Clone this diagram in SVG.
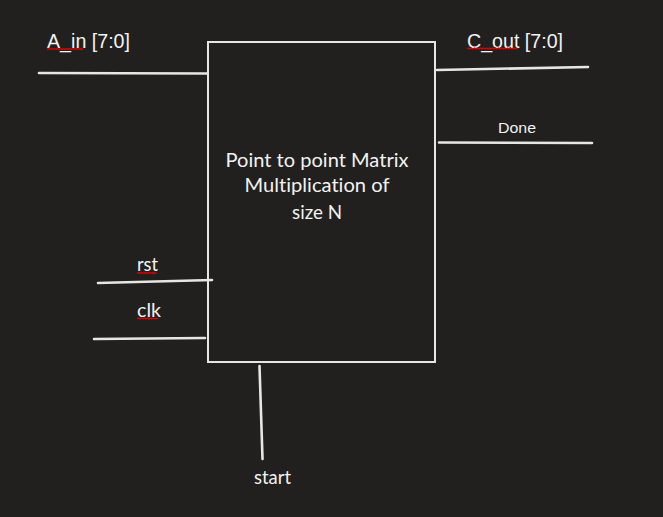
<svg xmlns="http://www.w3.org/2000/svg" width="663" height="517" viewBox="0 0 663 517">
<style>
.bg{fill:#21201f}
.box{fill:none;stroke:#e6e6e6;stroke-width:2}
.wire{stroke:#e6e6e6;stroke-width:2.6;stroke-linecap:round;fill:none}
.lbl{fill:#f2f2f2;font-family:"Liberation Sans",Arial,sans-serif}
.cal{fill:#f2f2f2;font-family:Lato,"Liberation Sans",sans-serif;font-variant-ligatures:none}
.sq{fill:none;stroke:#e00000;stroke-width:1.2}
</style>
<rect class="bg" x="0" y="0" width="663" height="517"/>
<g id="block">
<rect class="box" x="208" y="42" width="227" height="320"/>
<text class="cal" font-size="19.5" text-anchor="middle" x="317" y="167" textLength="183" lengthAdjust="spacingAndGlyphs">Point to point Matrix</text>
<text class="cal" font-size="19.5" text-anchor="middle" x="317" y="192" textLength="145" lengthAdjust="spacingAndGlyphs">Multiplication of</text>
<text class="cal" font-size="19.5" text-anchor="middle" x="317" y="219" textLength="50" lengthAdjust="spacingAndGlyphs">size N</text>
</g>
<g id="connectors">
<line class="wire" x1="39" y1="73" x2="207" y2="73.5"/>
<line class="wire" x1="437" y1="70" x2="588" y2="67"/>
<line class="wire" x1="439" y1="142.5" x2="592" y2="143"/>
<line class="wire" x1="98" y1="283" x2="212" y2="280"/>
<line class="wire" x1="94" y1="339" x2="205" y2="338"/>
<line class="wire" x1="259.5" y1="366" x2="262.5" y2="459"/>
</g>
<g id="labels">
<text class="lbl" font-size="20" x="47" y="48" textLength="83" lengthAdjust="spacingAndGlyphs">A_in [7:0]</text>
<text class="lbl" font-size="20" x="467" y="48" textLength="96" lengthAdjust="spacingAndGlyphs">C_out [7:0]</text>
<text class="lbl" font-size="15.5" x="498" y="133" textLength="38" lengthAdjust="spacingAndGlyphs">Done</text>
<text class="cal" font-size="19" x="137" y="271" textLength="21" lengthAdjust="spacingAndGlyphs">rst</text>
<text class="cal" font-size="19" x="137" y="317" textLength="24" lengthAdjust="spacingAndGlyphs">clk</text>
<text class="cal" font-size="19" x="254" y="484" textLength="37" lengthAdjust="spacingAndGlyphs">start</text>
</g>
<g id="spellcheck">
<path class="sq" d="M47 49.5 l1.5 -1 1.5 1 1.5 -1 1.5 1 1.5 -1 1.5 1 1.5 -1 1.5 1 1.5 -1 1.5 1 1.5 -1 1.5 1 1.5 -1 1.5 1 1.5 -1 1.5 1 1.5 -1 1.5 1 1.5 -1 1.5 1 1.5 -1 1.5 1 1.5 -1 1.5 1"/>
<path class="sq" d="M467 49 l1.5 -1 1.5 1 1.5 -1 1.5 1 1.5 -1 1.5 1 1.5 -1 1.5 1 1.5 -1 1.5 1 1.5 -1 1.5 1 1.5 -1 1.5 1 1.5 -1 1.5 1 1.5 -1 1.5 1 1.5 -1 1.5 1 1.5 -1 1.5 1 1.5 -1 1.5 1 1.5 -1 1.5 1 1.5 -1 1.5 1 1.5 -1 1.5 1 1.5 -1 1.5 1 1.5 -1 1.5 1"/>
<path class="sq" d="M137 273.5 l1.5 -1 1.5 1 1.5 -1 1.5 1 1.5 -1 1.5 1 1.5 -1 1.5 1 1.5 -1 1.5 1 1.5 -1 1.5 1 1.5 -1"/>
<path class="sq" d="M137 319 l1.5 -1 1.5 1 1.5 -1 1.5 1 1.5 -1 1.5 1 1.5 -1 1.5 1 1.5 -1 1.5 1 1.5 -1 1.5 1 1.5 -1 1.5 1"/>
</g>
</svg>
